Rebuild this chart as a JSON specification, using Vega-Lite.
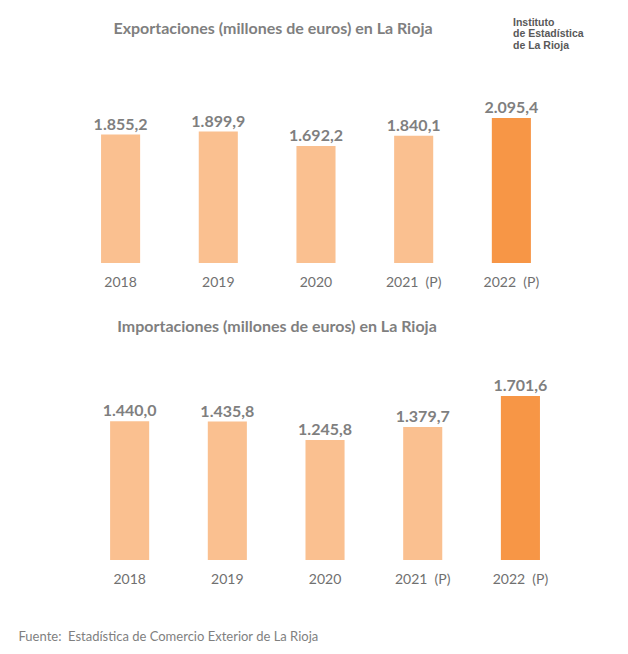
{
  "$schema": "https://vega.github.io/schema/vega-lite/v6.json",
  "background": "white",
  "padding": {"left": 18, "top": 17, "right": 5, "bottom": 5},
  "title": {
    "text": ["Instituto", "de Estadística", "de La Rioja"],
    "anchor": "end",
    "align": "left",
    "frame": "group",
    "dx": -52,
    "dy": 30,
    "offset": 0,
    "font": "Liberation Sans",
    "fontSize": 10.5,
    "fontWeight": "bold",
    "color": "#595959",
    "lineHeight": 11.5
  },
  "datasets": {
    "exp": [
      {"anio": "2018", "valor": 1855.2, "serie": "resto"},
      {"anio": "2019", "valor": 1899.9, "serie": "resto"},
      {"anio": "2020", "valor": 1692.2, "serie": "resto"},
      {"anio": "2021 \u00a0(P)", "valor": 1840.1, "serie": "resto"},
      {"anio": "2022 \u00a0(P)", "valor": 2095.4, "serie": "ultimo"}
    ],
    "imp": [
      {"anio": "2018", "valor": 1440.0, "serie": "resto"},
      {"anio": "2019", "valor": 1435.8, "serie": "resto"},
      {"anio": "2020", "valor": 1245.8, "serie": "resto"},
      {"anio": "2021 \u00a0(P)", "valor": 1379.7, "serie": "resto"},
      {"anio": "2022 \u00a0(P)", "valor": 1701.6, "serie": "ultimo"}
    ]
  },
  "bounds": "flush",
  "spacing": 82,
  "vconcat": [
    {
      "data": {"name": "exp"},
      "width": 500,
      "height": 203,
      "title": {
        "text": "Exportaciones (millones de euros) en La Rioja",
        "dx": -42,
        "dy": 2,
        "offset": 25,
        "font": "Lato",
        "fontSize": 16,
        "fontWeight": "bold",
        "color": "#7f7f7f"
      },
      "encoding": {
        "x": {
          "field": "anio",
          "type": "nominal",
          "sort": null,
          "scale": {"paddingInner": 0.6, "paddingOuter": 0.359, "align": 0.514},
          "axis": {
            "title": null,
            "labelAngle": 0,
            "domain": false,
            "ticks": false,
            "tickSize": 0,
            "labelPadding": 12,
            "labelFont": "Lato",
            "labelFontSize": 14,
            "labelColor": "#707070"
          }
        },
        "y": {
          "field": "valor",
          "type": "quantitative",
          "scale": {"domain": [0, 2933], "nice": false},
          "axis": null
        }
      },
      "layer": [
        {
          "mark": {"type": "bar"},
          "encoding": {
            "color": {
              "field": "serie",
              "type": "nominal",
              "scale": {"domain": ["resto", "ultimo"], "range": ["#FAC090", "#F79646"]},
              "legend": null
            }
          }
        },
        {
          "mark": {
            "type": "text",
            "baseline": "alphabetic",
            "dy": -5,
            "font": "Lato",
            "fontSize": 16,
            "fontWeight": "bold",
            "color": "#7f7f7f"
          },
          "encoding": {"text": {"field": "valor", "type": "quantitative", "format": ",.1f"}}
        }
      ]
    },
    {
      "data": {"name": "imp"},
      "width": 500,
      "height": 215,
      "title": {
        "text": "Importaciones (millones de euros) en La Rioja",
        "dx": -38,
        "dy": 4,
        "offset": 14,
        "font": "Lato",
        "fontSize": 16,
        "fontWeight": "bold",
        "color": "#7f7f7f"
      },
      "encoding": {
        "x": {
          "field": "anio",
          "type": "nominal",
          "sort": null,
          "scale": {"paddingInner": 0.6, "paddingOuter": 0.359, "align": 0.643},
          "axis": {
            "title": "Fuente: \u00a0Estadística de Comercio Exterior de La Rioja",
            "titleX": -47,
            "titleY": 76,
            "titleAlign": "left",
            "titleBaseline": "middle",
            "titleFont": "Lato",
            "titleFontSize": 13,
            "titleFontWeight": "normal",
            "titleColor": "#7f7f7f",
            "labelAngle": 0,
            "domain": false,
            "ticks": false,
            "tickSize": 0,
            "labelPadding": 12,
            "labelFont": "Lato",
            "labelFontSize": 14,
            "labelColor": "#707070"
          }
        },
        "y": {
          "field": "valor",
          "type": "quantitative",
          "scale": {"domain": [0, 2230], "nice": false},
          "axis": null
        }
      },
      "layer": [
        {
          "mark": {"type": "bar"},
          "encoding": {
            "color": {
              "field": "serie",
              "type": "nominal",
              "scale": {"domain": ["resto", "ultimo"], "range": ["#FAC090", "#F79646"]},
              "legend": null
            }
          }
        },
        {
          "mark": {
            "type": "text",
            "baseline": "alphabetic",
            "dy": -5,
            "font": "Lato",
            "fontSize": 16,
            "fontWeight": "bold",
            "color": "#7f7f7f"
          },
          "encoding": {"text": {"field": "valor", "type": "quantitative", "format": ",.1f"}}
        }
      ]
    }
  ],
  "config": {
    "view": {"stroke": null},
    "locale": {"number": {"decimal": ",", "thousands": ".", "grouping": [3], "currency": ["", " €"]}}
  }
}
